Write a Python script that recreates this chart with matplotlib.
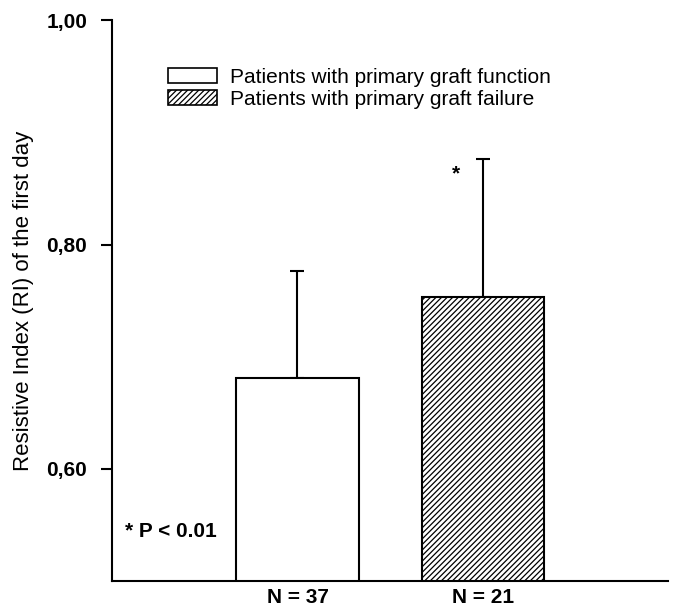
import matplotlib
matplotlib.use("Agg")
import matplotlib.pyplot as plt
from matplotlib.patches import Patch

plt.rcParams['font.family'] = ['Liberation Sans', 'DejaVu Sans']
plt.rcParams['hatch.linewidth'] = 0.9

groups = ["Patients with primary graft function", "Patients with primary graft failure"]
n_labels = ["N = 37", "N = 21"]
means = [0.681, 0.753]
sd_upper = [0.095, 0.123]
hatches = ["", "//////"]
yticks = [0.60, 0.80, 1.00]
ytick_labels = ["0,60", "0,80", "1,00"]

fig = plt.figure(figsize=(6.75, 6.12), dpi=100)
ax = fig.add_axes([0.166, 0.0507, 0.824, 0.9163])

positions = [1, 2]
for pos, m, e, h, lab in zip(positions, means, sd_upper, hatches, groups):
    ax.bar(pos, m, width=0.66, bottom=0, color="white", edgecolor="black",
           linewidth=1.5, hatch=h, label=lab, zorder=2)
    ax.errorbar(pos, m, yerr=[[0], [e]], fmt="none", ecolor="black",
                elinewidth=1.5, capsize=5, capthick=1.5, zorder=1)

ax.set_xlim(0, 3)
ax.set_ylim(0.50, 1.00)
ax.set_yticks(yticks)
ax.set_yticklabels(ytick_labels, fontsize=15, fontweight="bold")
ax.set_xticks(positions)
ax.set_xticklabels(n_labels, fontsize=15, fontweight="bold")
ax.tick_params(axis="x", length=0, pad=5)
ax.tick_params(axis="y", length=8, width=1.5, pad=10, direction="out")
for s in ["top", "right"]:
    ax.spines[s].set_visible(False)
for s in ["left", "bottom"]:
    ax.spines[s].set_linewidth(1.5)

ax.set_ylabel("Resistive Index (RI) of the first day", fontsize=16, labelpad=9)

ax.text(1.854, 0.863, "*", fontsize=15, fontweight="bold", ha="center", va="center")
ax.text(0.07, 0.546, "* P < 0.01", fontsize=15, fontweight="bold", ha="left",
        va="center_baseline")

handles = [Patch(facecolor="white", edgecolor="black", linewidth=1.2, hatch=h) for h in hatches]
ax.legend(handles, groups, loc="upper left", bbox_to_anchor=(0.1, 0.915),
          frameon=False, fontsize=15, handlelength=2.35, handleheight=0.72,
          handletextpad=0.62, labelspacing=0.15, borderaxespad=0, borderpad=0)

fig.savefig("out.png", dpi=100)
